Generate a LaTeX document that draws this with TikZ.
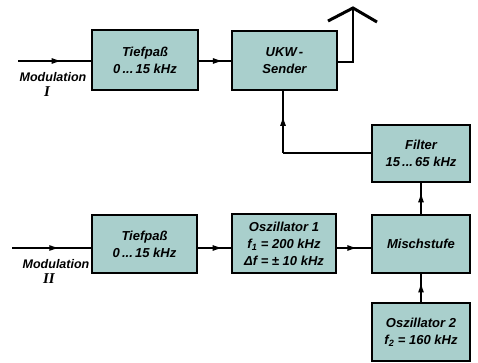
\documentclass[tikz,border=0pt]{standalone}
\usepackage{fontspec}
\setmainfont{Liberation Sans}
\newfontfamily\numfont{Liberation Serif}
\usetikzlibrary{arrows.meta,decorations.markings}
\definecolor{boxfill}{HTML}{A9CFCC}
\tikzset{
  blockbox/.style={draw=black, line width=2.2pt, fill=boxfill, align=center,
    font=\fontsize{13}{17}\selectfont\bfseries\itshape, inner sep=0pt},
  wire/.style={line width=1.3pt},
  midarr/.style={wire, postaction={decorate}, decoration={markings,
    mark=at position #1 with {\arrow{Latex[length=10pt,width=6pt]}}}},
  lbl/.style={font=\fontsize{12.5}{13}\selectfont\bfseries\itshape, inner sep=0pt},
  numlbl/.style={font=\numfont\bfseries\itshape\fontsize{15}{16}\selectfont, inner sep=0pt}
}
\begin{document}
\begin{tikzpicture}[x=1pt,y=-1pt]
\useasboundingbox (0,0) rectangle (478,363);
\node[blockbox, minimum width=106pt, minimum height=60pt] (tp1) at (145,60) {Tiefpaß\\0\,...\,15 kHz};
\node[blockbox, minimum width=105pt, minimum height=59pt] (ukw) at (284.5,60.5) {UKW\,-\\Sender};
\node[blockbox, minimum width=98pt, minimum height=57pt] (filt) at (421,153.5) {Filter\\15\,...\,65 kHz};
\node[blockbox, minimum width=98pt, minimum height=58pt] (misch) at (421,244) {Mischstufe};
\node[blockbox, minimum width=104pt, minimum height=59pt] (osz1) at (284,243.5) {Oszillator 1\\f\textsubscript{1} = 200 kHz\\Δf = ± 10 kHz};
\node[blockbox, minimum width=105pt, minimum height=58pt] (tp2) at (144.5,244) {Tiefpaß\\0\,...\,15 kHz};
\node[blockbox, minimum width=98pt, minimum height=58pt] (osz2) at (421,332) {Oszillator 2\\f\textsubscript{2} = 160 kHz};

\coordinate (in1) at (18,61);
\coordinate (in2) at (12,248);
\draw[midarr=0.6] (in1) -- (in1 -| tp1.west);
\draw[midarr=0.6] (in2) -- (in2 -| tp2.west);
\node[lbl] (m1) at (53,77) {Modulation};
\node[numlbl] (n1) at (47,92) {I};
\node[lbl] (m2) at (56,264) {Modulation};
\node[numlbl] (n2) at (49,279) {II};

\draw[midarr=0.75] (tp1.east |- 0,61) -- (ukw.west |- 0,61);
\draw[midarr=0.75] (tp2.east |- 0,248) -- (osz1.west |- 0,248);
\draw[midarr=0.6] (osz1.east |- 0,248) -- (misch.west |- 0,248);
\draw[midarr=0.7] (misch.north) -- (filt.south);
\draw[midarr=0.7] (osz2.north) -- (misch.south);

\coordinate (bend) at (283,153);
\draw[wire] (filt.west |- bend) -- (bend);
\draw[midarr=0.6] (bend) -- (ukw.south -| bend);

\coordinate (ant) at (353,62);
\coordinate (apex) at (353,8);
\draw[wire] (ukw.east |- ant) -- (ant) -- (apex);
\draw[line width=3pt] (328,21) -- (apex) -- (377,22);
\end{tikzpicture}
\end{document}
